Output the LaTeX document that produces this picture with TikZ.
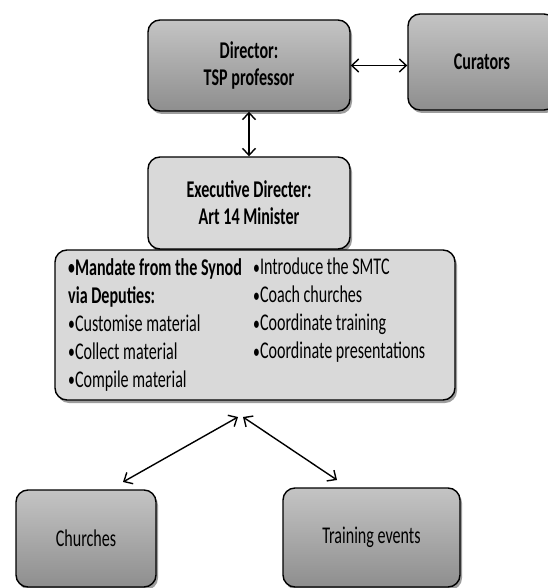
\documentclass[tikz,border=0pt]{standalone}
\usepackage{fontspec}
\setmainfont{Carlito}[FakeStretch=0.67]
\usetikzlibrary{arrows.meta,shadows}
\definecolor{boxtop}{HTML}{C4C4C4}
\definecolor{boxbot}{HTML}{8E8E8E}
\definecolor{lightbox}{HTML}{D9D9D9}
\newcommand{\bul}{\raisebox{0.5pt}{\scalebox{0.85}{•}}}
\begin{document}
\begin{tikzpicture}[x=1pt,y=-1pt,
  basebox/.style={draw=black, line width=1.4pt, rounded corners=12pt, inner sep=0pt, align=center,
    font=\fontsize{24}{27}\selectfont,
    drop shadow={shadow xshift=2pt, shadow yshift=-3pt, opacity=0.55, fill=black!70}},
  darkbox/.style={basebox, top color=boxtop, bottom color=boxbot},
  lightboxst/.style={basebox, fill=lightbox},
  boldtxt/.style={font=\fontsize{24}{27}\selectfont\bfseries},
  coltext/.style={anchor=north west, inner sep=0pt, align=left, font=\fontsize{24}{28}\selectfont},
  dbl/.style={{Straight Barb[length=7pt,width=13pt]}-{Straight Barb[length=7pt,width=13pt]}, line width=1.4pt}]
\useasboundingbox (0,0) rectangle (547,588);
\node[darkbox, boldtxt, minimum width=202pt, minimum height=91pt] (dir) at (249,65.5) {Director:\\TSP professor};
\node[darkbox, boldtxt, minimum width=148pt, minimum height=96pt] (cur) at (482,62) {Curators};
\node[lightboxst, boldtxt, minimum width=202pt, minimum height=92pt] (exec) at (249,203) {Executive Directer:\\Art 14 Minister};
\node[lightboxst, minimum width=400pt, minimum height=150pt] (big) at (255,325) {};
\node[coltext] (col1) at (68,258) {\textbf{\bul Mandate from the Synod}\\\textbf{via Deputies:}\\\bul Customise material\\\bul Collect material\\\bul Compile material};
\node[coltext] (col2) at (253,258) {\bul Introduce the SMTC\\\bul Coach churches\\\bul Coordinate training\\\bul Coordinate presentations};
\node[darkbox, minimum width=140pt, minimum height=97pt] (church) at (86,538.5) {Churches};
\node[darkbox, minimum width=177pt, minimum height=99pt] (train) at (371.5,537.5) {Training events};
\draw[dbl] (dir.east) -- (dir.east -| cur.west);
\draw[dbl] (dir.south) -- (exec.north);
\coordinate (apexL) at (238,417);
\coordinate (apexR) at (243,417);
\coordinate (chTip) at (123,482);
\coordinate (trTip) at (337,480);
\draw[dbl] (apexL) -- (chTip);
\draw[dbl] (apexR) -- (trTip);
\end{tikzpicture}
\end{document}
